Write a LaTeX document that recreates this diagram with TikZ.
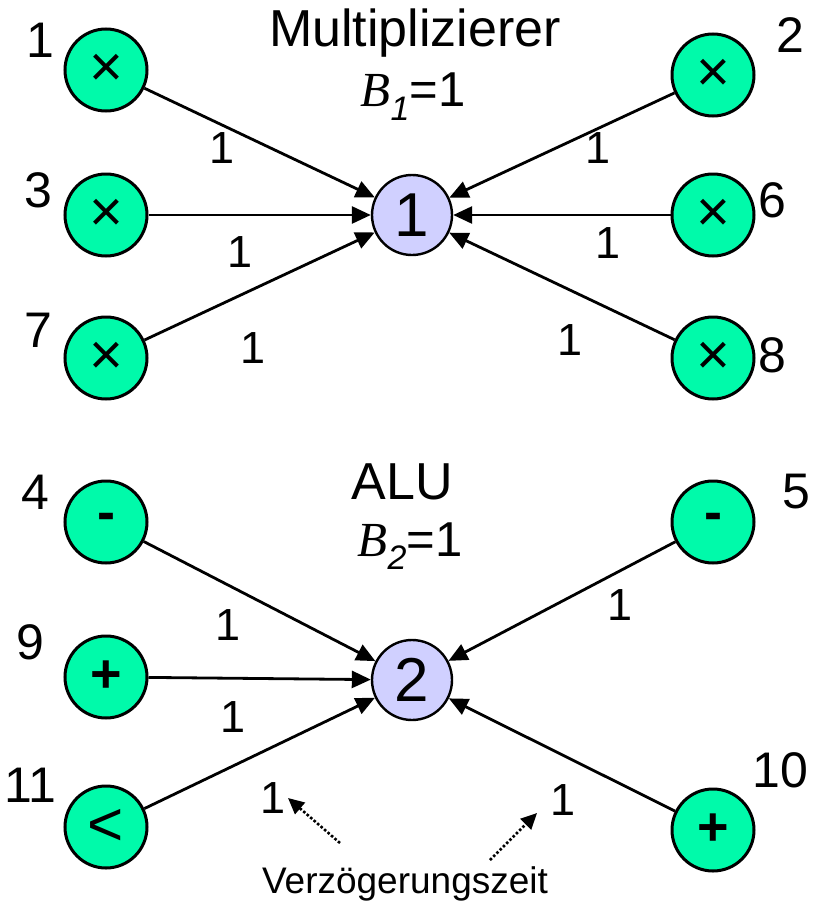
\documentclass[tikz,border=0pt]{standalone}
\usepackage{fontspec}
\setmainfont{Liberation Sans}
\newfontfamily\timesfont{Liberation Serif}
\usetikzlibrary{arrows.meta}
\definecolor{opgreen}{RGB}{0,250,170}
\definecolor{reslav}{RGB}{208,208,255}
\newcommand{\bvar}[1]{{\timesfont\itshape B}\raisebox{-0.28em}{\fontsize{34}{34}\selectfont\itshape #1}}
\newcommand{\mulsym}{\raisebox{-0.22em}{\fontsize{58}{58}\selectfont ×}}

\begin{document}
\begin{tikzpicture}[
  x=1pt, y=-1pt,
  font=\fontsize{52}{56}\selectfont,
  opnode/.style={draw, circle, line width=3pt, fill=opgreen,
                 minimum size=82pt, inner sep=0pt, font=\fontsize{54}{56}\selectfont},
  resnode/.style={draw, circle, line width=2.4pt, fill=reslav,
                  minimum size=80pt, inner sep=0pt, font=\fontsize{62}{64}\selectfont},
  idlabel/.style={font=\fontsize{50}{52}\selectfont, inner sep=1pt},
  wlabel/.style={font=\fontsize{45}{48}\selectfont},
  arrow/.style={-{Triangle[length=19pt, width=17pt]}, line width=2.8pt},
  dotarrow/.style={-{Triangle[length=16pt, width=15pt]}, line width=2.6pt, dotted},
]
\useasboundingbox (0,0) rectangle (821,905);

\node[resnode] (mul) at (412,215) {1};
\node[resnode] (alu) at (412,680) {2};

\node[opnode] (o1) at (106,70) {\mulsym};
\node[opnode] (o3) at (106,215) {\mulsym};
\node[opnode] (o7) at (106,358) {\mulsym};
\node[opnode] (o2) at (713,75) {\mulsym};
\node[opnode] (o6) at (713,215) {\mulsym};
\node[opnode] (o8) at (713,358) {\mulsym};

\node[opnode] (o4) at (106,522) {\textbf{-}};
\node[opnode] (o9) at (106,677) {\textbf{+}};
\node[opnode, font=\fontsize{62}{64}\selectfont] (o11) at (106,827) {<};
\node[opnode] (o5) at (713,522) {\textbf{-}};
\node[opnode] (o10) at (713,830) {\textbf{+}};

\node[idlabel] (n1) at (40,40) {1};
\node[idlabel] (n3) at (38,190) {3};
\node[idlabel] (n7) at (38,330) {7};
\node[idlabel] (n2) at (790,35) {2};
\node[idlabel] (n6) at (772,200) {6};
\node[idlabel] (n8) at (772,355) {8};
\node[idlabel] (n4) at (35,492) {4};
\node[idlabel] (n9) at (30,642) {9};
\node[idlabel] (n11) at (30,785) {11};
\node[idlabel] (n5) at (796,492) {5};
\node[idlabel] (n10) at (780,770) {10};

\node (mtitle) at (415,33) {Multiplizierer};
\node[font=\fontsize{49}{52}\selectfont] (mbound) at (413,97) {\bvar{1}=1};
\node (atitle) at (402,482) {ALU};
\node[font=\fontsize{49}{52}\selectfont] (abound) at (410,546) {\bvar{2}=1};

\node[wlabel] (w1) at (222,148) {1};
\node[wlabel] (w2) at (598,148) {1};
\node[wlabel] (w3) at (240,252) {1};
\node[wlabel] (w6) at (608,243) {1};
\node[wlabel] (w7) at (253,348) {1};
\node[wlabel] (w8) at (570,340) {1};
\node[wlabel] (w4) at (228,625) {1};
\node[wlabel] (w5) at (620,605) {1};
\node[wlabel] (w9) at (233,717) {1};
\node[wlabel] (w11) at (273,798) {1};
\node[wlabel] (w10) at (563,800) {1};

\node[font=\fontsize{37}{40}\selectfont] (delay) at (405,884) {Verzögerungszeit};
\coordinate (dl) at (340,843);
\coordinate (dr) at (490,860);
\coordinate (tl) at (288,798);
\coordinate (tr) at (537,813);

\draw[arrow] (o1) -- (mul);
\draw[arrow] (o3) -- (mul);
\draw[arrow] (o7) -- (mul);
\draw[arrow] (o2) -- (mul);
\draw[arrow] (o6) -- (mul);
\draw[arrow] (o8) -- (mul);
\draw[arrow] (o4) -- (alu);
\draw[arrow] (o9) -- (alu);
\draw[arrow] (o11) -- (alu);
\draw[arrow] (o5) -- (alu);
\draw[arrow] (o10) -- (alu);
\draw[dotarrow] (dl) -- (tl);
\draw[dotarrow] (dr) -- (tr);
\end{tikzpicture}
\end{document}
